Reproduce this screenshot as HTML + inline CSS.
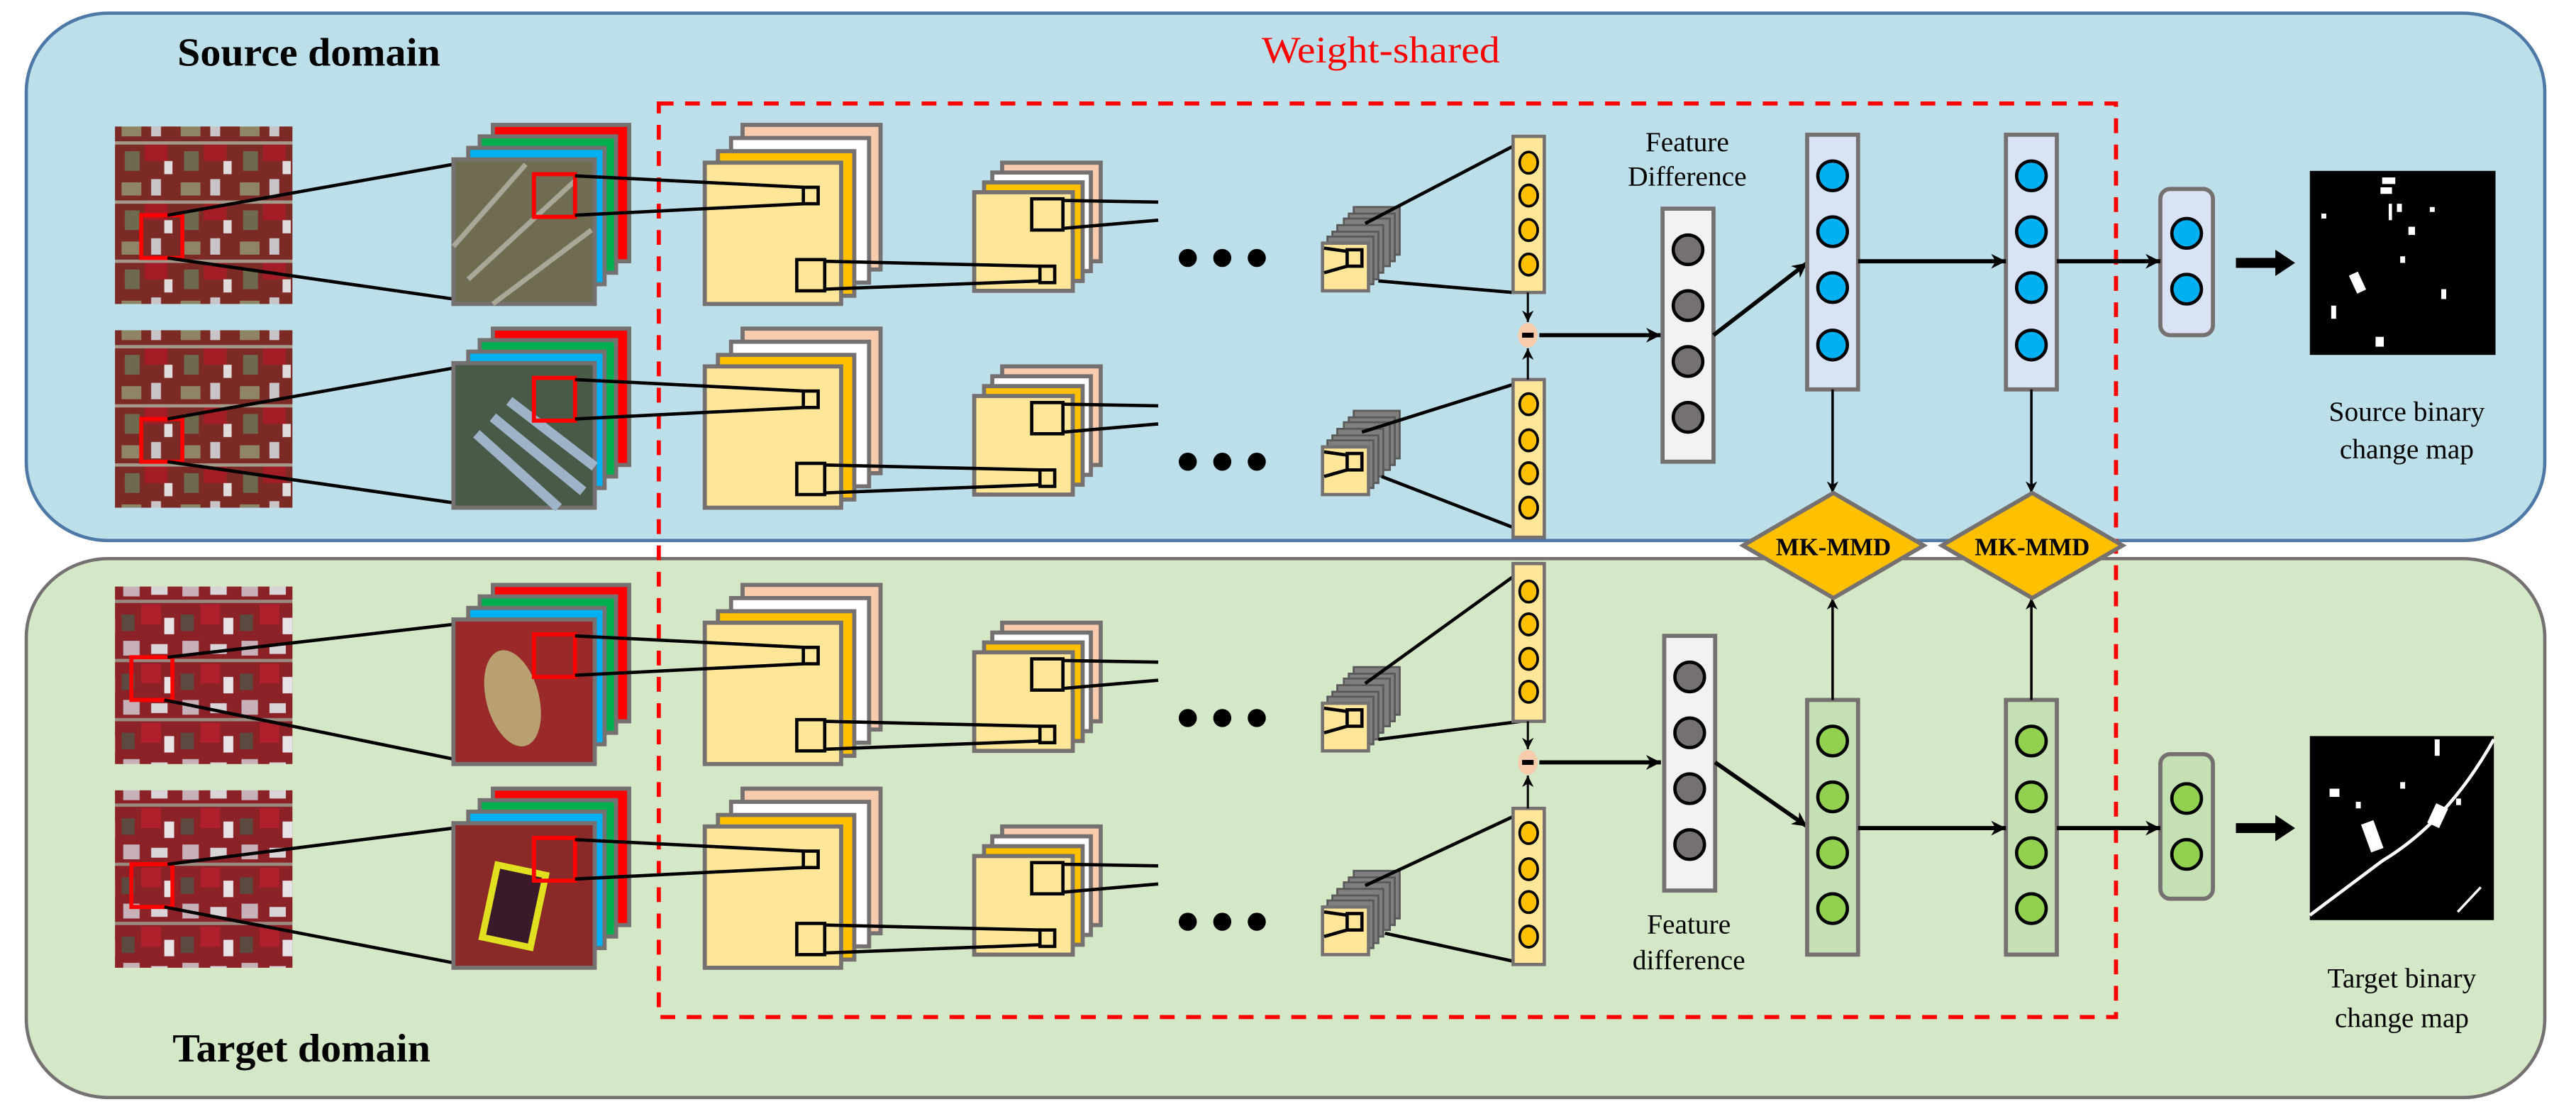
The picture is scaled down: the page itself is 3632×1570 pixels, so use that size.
<!DOCTYPE html>
<html><head><meta charset="utf-8"><style>html,body{margin:0;padding:0;background:#fff;}svg{display:block;}</style></head>
<body>
<svg xmlns="http://www.w3.org/2000/svg" width="3632" height="1570" viewBox="0 0 1568 678" preserveAspectRatio="none" font-family="'Liberation Serif', serif">
<defs>
<marker id="ah" viewBox="0 0 10 10" refX="10" refY="5" markerWidth="9" markerHeight="9" markerUnits="userSpaceOnUse" orient="auto"><path d="M0,0 L10,5 L0,10 L3,5 z" fill="#000"/></marker>
<marker id="ahs" viewBox="0 0 10 10" refX="10" refY="5" markerWidth="7" markerHeight="7" markerUnits="userSpaceOnUse" orient="auto"><path d="M0,0 L10,5 L0,10 L3,5 z" fill="#000"/></marker>
<pattern id="satS" width="36" height="36" patternUnits="userSpaceOnUse">
<rect width="36" height="36" fill="#7b2a26"/><rect x="2" y="3" width="12" height="8" fill="#8f8466"/><rect x="20" y="1" width="6" height="10" fill="#c9c4c8"/><rect x="16" y="16" width="14" height="10" fill="#a31d26"/><rect x="4" y="20" width="9" height="12" fill="#6e6a4e"/><rect x="28" y="26" width="5" height="8" fill="#e0dcdc"/><rect x="0" y="14" width="36" height="2" fill="#a59a8a"/>
</pattern>
<pattern id="satT" width="36" height="36" patternUnits="userSpaceOnUse">
<rect width="36" height="36" fill="#8a2228"/><rect x="3" y="2" width="10" height="9" fill="#c8b0b8"/><rect x="20" y="4" width="10" height="6" fill="#d8d4d8"/><rect x="14" y="16" width="12" height="12" fill="#b0202c"/><rect x="2" y="22" width="8" height="10" fill="#5a4a40"/><rect x="28" y="24" width="6" height="10" fill="#e6e2e6"/><rect x="0" y="13" width="36" height="2" fill="#9a8a80"/>
</pattern>
</defs>

<rect x="16" y="8" width="1533" height="321" rx="50" ry="48" fill="#bcdfe9" stroke="#4e79a7" stroke-width="2"/>
<rect x="16" y="340" width="1533" height="328" rx="50" ry="48" fill="#d4e7c7" stroke="#767171" stroke-width="2"/>

<rect x="401" y="63" width="887" height="556" fill="none" stroke="#ff0000" stroke-width="2.5" stroke-dasharray="9,7"/>

<text x="108" y="40" font-size="24" font-weight="bold" textLength="160" lengthAdjust="spacingAndGlyphs">Source domain</text>
<text x="105" y="646" font-size="24" font-weight="bold" textLength="157" lengthAdjust="spacingAndGlyphs">Target domain</text>
<text x="768" y="38" font-size="23" fill="#ff0000" textLength="145" lengthAdjust="spacingAndGlyphs">Weight-shared</text>

<!-- conv parts per row (shapes first, then lines on top) -->
<g id="c0">
<g stroke="#767171" stroke-width="2.5"><rect x="452" y="76" width="84" height="88" fill="#f8cbad"/><rect x="445" y="84" width="84" height="88" fill="#fff"/><rect x="437" y="92" width="83" height="88" fill="#ffc000"/><rect x="429" y="99" width="83" height="86" fill="#ffe699"/></g>
<g stroke="#767171" stroke-width="2.5"><rect x="610" y="99" width="60" height="60" fill="#f8cbad"/><rect x="604" y="105" width="60" height="60" fill="#fff"/><rect x="599" y="111" width="60" height="60" fill="#ffc000"/><rect x="593" y="117" width="60" height="60" fill="#ffe699"/></g>
<rect x="489" y="114" width="9" height="10" fill="none" stroke="#000" stroke-width="2"/><rect x="485" y="158" width="17" height="19" fill="none" stroke="#000" stroke-width="2"/>
<line x1="502" y1="159" x2="633" y2="162" stroke="#000" stroke-width="2"/><line x1="502" y1="176" x2="633" y2="171" stroke="#000" stroke-width="2"/>
<rect x="628" y="121" width="19" height="19" fill="none" stroke="#000" stroke-width="2"/><rect x="633" y="162" width="9" height="10" fill="none" stroke="#000" stroke-width="2"/>
<line x1="647" y1="122" x2="705" y2="123" stroke="#000" stroke-width="2"/><line x1="647" y1="139" x2="705" y2="134" stroke="#000" stroke-width="2"/>
<circle cx="723" cy="157" r="5.5"/><circle cx="744" cy="157" r="5.5"/><circle cx="765" cy="157" r="5.5"/>
<g stroke="#595959" stroke-width="1.2" fill="#7f7f7f"><rect x="824" y="126" width="28" height="29"/><rect x="821" y="130" width="28" height="29"/><rect x="818" y="133" width="28" height="29"/><rect x="814" y="137" width="28" height="29"/><rect x="811" y="141" width="28" height="29"/><rect x="808" y="144" width="28" height="29"/></g>
<rect x="805" y="148" width="28" height="29" fill="#ffe699" stroke="#767171" stroke-width="2"/>
<line x1="806" y1="151" x2="820" y2="153" stroke="#000" stroke-width="2"/><line x1="806" y1="166" x2="820" y2="162" stroke="#000" stroke-width="2"/>
<rect x="820" y="152" width="9" height="10" fill="none" stroke="#000" stroke-width="2"/>
</g>
<use href="#c0" transform="translate(0,124)"/>
<use href="#c0" transform="translate(0,280)"/>
<use href="#c0" transform="translate(0,404)"/>

<!-- input rows -->
<g transform="translate(0,0)">
<rect x="70" y="77" width="108" height="108" fill="url(#satS)"/>
<rect x="86" y="131" width="25" height="26" fill="none" stroke="#ff0000" stroke-width="2.5"/>
<line x1="102" y1="131" x2="276" y2="100" stroke="#000" stroke-width="2"/><line x1="102" y1="157" x2="276" y2="182" stroke="#000" stroke-width="2"/>
<g stroke="#767171" stroke-width="2.5"><rect x="300" y="76" width="83" height="83" fill="#ff0000"/><rect x="292" y="83" width="83" height="83" fill="#00b050"/><rect x="285" y="90" width="83" height="83" fill="#00b0f0"/><rect x="276" y="97" width="86" height="88" fill="#6f6c52"/></g>
<path d="M285,170 L350,110 M300,185 L360,140 M276,150 L320,100" stroke="#a8a898" stroke-width="3"/>
<rect x="325" y="106" width="25" height="26" fill="none" stroke="#ff0000" stroke-width="2.5"/>
<line x1="350" y1="107" x2="489" y2="114" stroke="#000" stroke-width="2"/><line x1="350" y1="131" x2="489" y2="124" stroke="#000" stroke-width="2"/>
</g>
<g transform="translate(0,124)">
<rect x="70" y="77" width="108" height="108" fill="url(#satS)"/>
<rect x="86" y="131" width="25" height="26" fill="none" stroke="#ff0000" stroke-width="2.5"/>
<line x1="102" y1="131" x2="276" y2="100" stroke="#000" stroke-width="2"/><line x1="102" y1="157" x2="276" y2="182" stroke="#000" stroke-width="2"/>
<g stroke="#767171" stroke-width="2.5"><rect x="300" y="76" width="83" height="83" fill="#ff0000"/><rect x="292" y="83" width="83" height="83" fill="#00b050"/><rect x="285" y="90" width="83" height="83" fill="#00b0f0"/><rect x="276" y="97" width="86" height="88" fill="#4a5a48"/></g>
<path d="M300,130 L355,175 M310,120 L362,160 M290,140 L340,185" stroke="#9fb3c8" stroke-width="6"/>
<rect x="325" y="106" width="25" height="26" fill="none" stroke="#ff0000" stroke-width="2.5"/>
<line x1="350" y1="107" x2="489" y2="114" stroke="#000" stroke-width="2"/><line x1="350" y1="131" x2="489" y2="124" stroke="#000" stroke-width="2"/>
</g>
<g transform="translate(0,280)">
<rect x="70" y="77" width="108" height="108" fill="url(#satT)"/>
<rect x="80" y="120" width="25" height="26" fill="none" stroke="#ff0000" stroke-width="2.5"/>
<line x1="102" y1="120" x2="276" y2="100" stroke="#000" stroke-width="2"/><line x1="100" y1="146" x2="276" y2="182" stroke="#000" stroke-width="2"/>
<g stroke="#767171" stroke-width="2.5"><rect x="300" y="76" width="83" height="83" fill="#ff0000"/><rect x="292" y="83" width="83" height="83" fill="#00b050"/><rect x="285" y="90" width="83" height="83" fill="#00b0f0"/><rect x="276" y="97" width="86" height="88" fill="#9a2a2a"/></g>
<ellipse cx="312" cy="145" rx="16" ry="30" fill="#b8a070" transform="rotate(-15 312 145)"/>
<rect x="325" y="106" width="25" height="26" fill="none" stroke="#ff0000" stroke-width="2.5"/>
<line x1="350" y1="107" x2="489" y2="114" stroke="#000" stroke-width="2"/><line x1="350" y1="131" x2="489" y2="124" stroke="#000" stroke-width="2"/>
</g>
<g transform="translate(0,404)">
<rect x="70" y="77" width="108" height="108" fill="url(#satT)"/>
<rect x="80" y="122" width="25" height="26" fill="none" stroke="#ff0000" stroke-width="2.5"/>
<line x1="102" y1="122" x2="276" y2="100" stroke="#000" stroke-width="2"/><line x1="100" y1="148" x2="276" y2="182" stroke="#000" stroke-width="2"/>
<g stroke="#767171" stroke-width="2.5"><rect x="300" y="76" width="83" height="83" fill="#ff0000"/><rect x="292" y="83" width="83" height="83" fill="#00b050"/><rect x="285" y="90" width="83" height="83" fill="#00b0f0"/><rect x="276" y="97" width="86" height="88" fill="#8a2a28"/></g>
<rect x="298" y="125" width="30" height="45" fill="#3a1a2a" stroke="#e0e020" stroke-width="4" transform="rotate(12 313 147)"/>
<rect x="325" y="106" width="25" height="26" fill="none" stroke="#ff0000" stroke-width="2.5"/>
<line x1="350" y1="107" x2="489" y2="114" stroke="#000" stroke-width="2"/><line x1="350" y1="131" x2="489" y2="124" stroke="#000" stroke-width="2"/>
</g>

<g stroke="#000" stroke-width="2">
<line x1="831" y1="136" x2="921" y2="89"/><line x1="839" y1="171" x2="921" y2="178"/>
<line x1="829" y1="263" x2="921" y2="234"/><line x1="841" y1="290" x2="921" y2="321"/>
<line x1="831" y1="416" x2="921" y2="351"/><line x1="839" y1="450" x2="926" y2="439"/>
<line x1="831" y1="539" x2="921" y2="497"/><line x1="843" y1="568" x2="921" y2="585"/>
</g>

<g stroke="#767171" stroke-width="2" fill="#ffe699">
<rect x="921" y="83" width="19" height="95"/><rect x="921" y="231" width="19" height="96"/>
<rect x="921" y="343" width="19" height="96"/><rect x="921" y="492" width="19" height="95"/>
</g>
<g fill="#ffc000" stroke="#000" stroke-width="1.6">
<ellipse cx="930.5" cy="99" rx="5.5" ry="6.5"/><ellipse cx="930.5" cy="119" rx="5.5" ry="6.5"/><ellipse cx="930.5" cy="140" rx="5.5" ry="6.5"/><ellipse cx="930.5" cy="161" rx="5.5" ry="6.5"/>
<ellipse cx="930.5" cy="246" rx="5.5" ry="6.5"/><ellipse cx="930.5" cy="268" rx="5.5" ry="6.5"/><ellipse cx="930.5" cy="288" rx="5.5" ry="6.5"/><ellipse cx="930.5" cy="309" rx="5.5" ry="6.5"/>
<ellipse cx="930.5" cy="360" rx="5.5" ry="6.5"/><ellipse cx="930.5" cy="380" rx="5.5" ry="6.5"/><ellipse cx="930.5" cy="401" rx="5.5" ry="6.5"/><ellipse cx="930.5" cy="421" rx="5.5" ry="6.5"/>
<ellipse cx="930.5" cy="507" rx="5.5" ry="6.5"/><ellipse cx="930.5" cy="529" rx="5.5" ry="6.5"/><ellipse cx="930.5" cy="549" rx="5.5" ry="6.5"/><ellipse cx="930.5" cy="570" rx="5.5" ry="6.5"/>
</g>

<g stroke="#000" stroke-width="1.3" fill="none">
<line x1="930" y1="178" x2="930" y2="196" marker-end="url(#ahs)"/><line x1="930" y1="231" x2="930" y2="212" marker-end="url(#ahs)"/>
<line x1="930" y1="439" x2="930" y2="456" marker-end="url(#ahs)"/><line x1="930" y1="492" x2="930" y2="472" marker-end="url(#ahs)"/>
</g>
<ellipse cx="930" cy="204" rx="6" ry="7.5" fill="#f8cbad"/><rect x="926.5" y="202.5" width="7" height="3" fill="#000"/>
<ellipse cx="930" cy="464" rx="6" ry="7.5" fill="#f8cbad"/><rect x="926.5" y="462.5" width="7" height="3" fill="#000"/>
<line x1="937" y1="204" x2="1011" y2="204" stroke="#000" stroke-width="2.5" marker-end="url(#ah)"/>
<line x1="937" y1="464" x2="1011" y2="464" stroke="#000" stroke-width="2.5" marker-end="url(#ah)"/>

<g stroke="#767171" stroke-width="2.5" fill="#f2f2f2"><rect x="1012" y="127" width="31" height="154"/><rect x="1013" y="387" width="31" height="155"/></g>
<g fill="#767171" stroke="#000" stroke-width="2">
<circle cx="1027.5" cy="152" r="9"/><circle cx="1027.5" cy="186" r="9"/><circle cx="1027.5" cy="220" r="9"/><circle cx="1027.5" cy="254" r="9"/>
<circle cx="1028.5" cy="412" r="9"/><circle cx="1028.5" cy="446" r="9"/><circle cx="1028.5" cy="480" r="9"/><circle cx="1028.5" cy="514" r="9"/>
</g>
<g font-size="17" text-anchor="middle">
<text x="1027" y="92">Feature</text><text x="1027" y="113">Difference</text>
<text x="1028" y="568">Feature</text><text x="1028" y="590">difference</text>
<text x="1465" y="256">Source binary</text><text x="1465" y="279">change map</text>
<text x="1462" y="601">Target binary</text><text x="1462" y="625">change map</text>
</g>

<line x1="1043" y1="204" x2="1100" y2="160" stroke="#000" stroke-width="2.5" marker-end="url(#ah)"/>
<line x1="1044" y1="464" x2="1100" y2="503" stroke="#000" stroke-width="2.5" marker-end="url(#ah)"/>

<g stroke="#767171" stroke-width="2.5">
<rect x="1100" y="82" width="31" height="155" fill="#dae3f3"/><rect x="1221" y="82" width="31" height="155" fill="#dae3f3"/>
<rect x="1315" y="115" width="32" height="89" rx="6" fill="#dae3f3"/>
<rect x="1100" y="426" width="31" height="155" fill="#c5e0b4"/><rect x="1221" y="426" width="31" height="155" fill="#c5e0b4"/>
<rect x="1315" y="459" width="32" height="88" rx="6" fill="#c5e0b4"/>
</g>
<g fill="#00b0f0" stroke="#000" stroke-width="2">
<circle cx="1115.5" cy="107" r="9"/><circle cx="1115.5" cy="141" r="9"/><circle cx="1115.5" cy="175" r="9"/><circle cx="1115.5" cy="210" r="9"/>
<circle cx="1236.5" cy="107" r="9"/><circle cx="1236.5" cy="141" r="9"/><circle cx="1236.5" cy="175" r="9"/><circle cx="1236.5" cy="210" r="9"/>
<circle cx="1331" cy="142" r="9"/><circle cx="1331" cy="176" r="9"/>
</g>
<g fill="#92d050" stroke="#000" stroke-width="2">
<circle cx="1115.5" cy="451" r="9"/><circle cx="1115.5" cy="485" r="9"/><circle cx="1115.5" cy="519" r="9"/><circle cx="1115.5" cy="553" r="9"/>
<circle cx="1236.5" cy="451" r="9"/><circle cx="1236.5" cy="485" r="9"/><circle cx="1236.5" cy="519" r="9"/><circle cx="1236.5" cy="553" r="9"/>
<circle cx="1331" cy="486" r="9"/><circle cx="1331" cy="520" r="9"/>
</g>
<g stroke="#000" stroke-width="2.5">
<line x1="1131" y1="159" x2="1221" y2="159" marker-end="url(#ah)"/><line x1="1252" y1="159" x2="1315" y2="159" marker-end="url(#ah)"/>
<line x1="1131" y1="504" x2="1221" y2="504" marker-end="url(#ah)"/><line x1="1252" y1="504" x2="1315" y2="504" marker-end="url(#ah)"/>
</g>
<g stroke="#000" stroke-width="1.5">
<line x1="1115.5" y1="237" x2="1115.5" y2="300" marker-end="url(#ahs)"/><line x1="1236.5" y1="237" x2="1236.5" y2="300" marker-end="url(#ahs)"/>
<line x1="1115.5" y1="426" x2="1115.5" y2="364" marker-end="url(#ahs)"/><line x1="1236.5" y1="426" x2="1236.5" y2="364" marker-end="url(#ahs)"/>
</g>
<path d="M1361,157 L1385,157 L1385,152 L1397,160 L1385,168 L1385,163 L1361,163 z" fill="#000"/>
<path d="M1361,501 L1385,501 L1385,496 L1397,504 L1385,512 L1385,507 L1361,507 z" fill="#000"/>

<rect x="1406" y="104" width="113" height="112" fill="#000"/>
<g fill="#fff"><rect x="1450" y="108" width="8" height="4"/><rect x="1449" y="114" width="7" height="4"/><rect x="1454" y="124" width="2" height="10"/><rect x="1459" y="124" width="3" height="5"/><rect x="1479" y="126" width="3" height="3"/><rect x="1413" y="130" width="3" height="3"/><rect x="1466" y="138" width="4" height="5"/><rect x="1461" y="156" width="3" height="4"/><rect x="1432" y="166" width="6" height="12" transform="rotate(-25 1435 172)"/><rect x="1486" y="176" width="3" height="6"/><rect x="1419" y="186" width="3" height="8"/><rect x="1446" y="205" width="5" height="6"/></g>
<rect x="1406" y="448" width="112" height="112" fill="#000"/>
<path d="M1406,527 L1450,494 Q1490,470 1518,420" stroke="#fff" stroke-width="2" fill="none" transform="translate(0,30)"/>
<g fill="#fff"><rect x="1440" y="500" width="8" height="18" transform="rotate(-20 1444 509)"/><rect x="1480" y="490" width="8" height="13" transform="rotate(25 1484 496)"/><rect x="1482" y="450" width="3" height="10"/><rect x="1418" y="480" width="6" height="5"/><rect x="1434" y="488" width="3" height="4"/><rect x="1461" y="476" width="3" height="4"/><rect x="1495" y="486" width="3" height="4"/></g>
<path d="M1496,555 L1510,540" stroke="#fff" stroke-width="1.5"/>

<g fill="#ffc000" stroke="#767171" stroke-width="2.5">
<path d="M1116,300 L1171,332 L1116,364 L1061,332 z"/><path d="M1237,300 L1292,332 L1237,364 L1182,332 z"/>
</g>
<g font-size="15" font-weight="bold" text-anchor="middle">
<text x="1116" y="338" textLength="70" lengthAdjust="spacingAndGlyphs">MK-MMD</text>
<text x="1237" y="338" textLength="70" lengthAdjust="spacingAndGlyphs">MK-MMD</text>
</g>
</svg>
</body></html>
